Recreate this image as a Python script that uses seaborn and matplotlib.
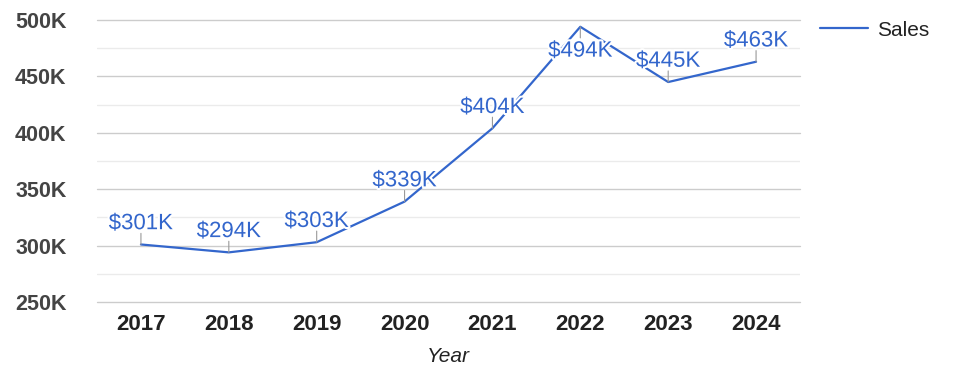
import pandas as pd
import matplotlib.pyplot as plt
import matplotlib.patheffects as pe
import seaborn as sns
from matplotlib.ticker import MultipleLocator, FuncFormatter

# Data
years = [2017, 2018, 2019, 2020, 2021, 2022, 2023, 2024]
sales = [301000, 294000, 303000, 339000, 404000, 494000, 445000, 463000]
labels = ['$301K', '$294K', '$303K', '$339K', '$404K', '$494K', '$445K', '$463K']

df = pd.DataFrame({'Year': years, 'Sales': sales})

sns.set_style('white')
plt.rcParams['font.family'] = ['Liberation Sans', 'DejaVu Sans']

blue = '#3366CC'

fig = plt.figure(figsize=(9.75, 3.78), dpi=100)
ax = fig.add_axes([97 / 975, 1 - 302 / 378, 703 / 975, 282 / 378])

sns.lineplot(data=df, x='Year', y='Sales', color=blue, linewidth=1.6, ax=ax, label='Sales')

# Point labels with short leader lines
for yr, v, lab in zip(years, sales, labels):
    if v == max(sales):
        lead, off, va = (0, -8), (0, -10), 'top'
    else:
        lead, off, va = (0, 8), (0, 11), 'baseline'
    ax.annotate('', xy=(yr, v), xytext=lead, textcoords='offset points',
                arrowprops=dict(arrowstyle='-', color='#999999', lw=0.8,
                                shrinkA=0, shrinkB=0))
    ax.annotate(lab, xy=(yr, v), xytext=off, textcoords='offset points',
                ha='center', va=va, fontsize=16, color=blue,
                path_effects=[pe.withStroke(linewidth=3, foreground='white')])

ax.set_xlim(2016.5, 2024.5)
ax.set_ylim(250000, 500000)
ax.set_xticks(years)
ax.yaxis.set_major_locator(MultipleLocator(50000))
ax.yaxis.set_minor_locator(MultipleLocator(25000))
ax.yaxis.set_major_formatter(FuncFormatter(lambda v, p: f'{int(v / 1000)}K'))

ax.grid(axis='y', which='major', color='#cccccc', linewidth=1)
ax.grid(axis='y', which='minor', color='#ebebeb', linewidth=1)
ax.set_axisbelow(True)
for g in ax.get_ygridlines():
    g.set_clip_on(False)
for s in ax.spines.values():
    s.set_visible(False)

ax.tick_params(axis='y', which='both', length=0, pad=22, labelsize=15.5, labelcolor='#444444')
ax.tick_params(axis='x', length=0, pad=9, labelsize=16, labelcolor='#222222')
for t in ax.get_yticklabels() + ax.get_xticklabels():
    t.set_fontweight('bold')

ax.set_ylabel('')
ax.set_xlabel('Year', fontsize=15, fontstyle='italic', color='#222222', labelpad=8)

ax.get_legend().remove()
fig.legend(loc='center left', bbox_to_anchor=(820 / 975, 1 - 30 / 378),
           frameon=False, fontsize=15, handlelength=2.3, handletextpad=0.45,
           borderpad=0, borderaxespad=0, labelcolor='#222222')

fig.savefig('out.png', dpi=100)
